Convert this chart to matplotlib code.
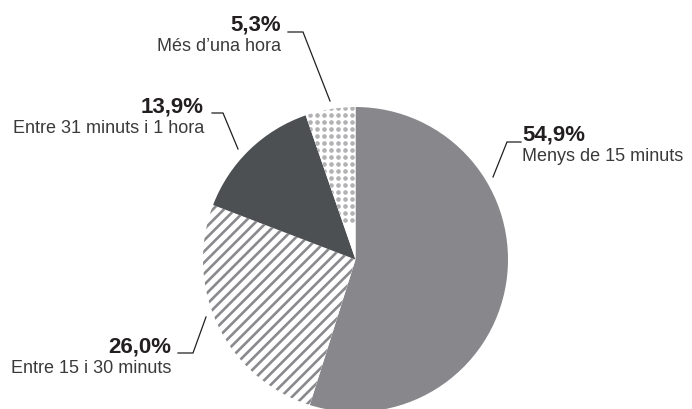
import matplotlib
matplotlib.use("Agg")
import matplotlib.pyplot as plt
import numpy as np

# --- Data ---
categories = ["Menys de 15 minuts", "Entre 15 i 30 minuts", "Entre 31 minuts i 1 hora", "Més d\u2019una hora"]
values = [54.9, 26.0, 13.9, 5.3]
value_labels = ["54,9%", "26,0%", "13,9%", "5,3%"]

# --- Style ---
face_colors = ["#88888c", "white", "#4c5052", "white"]
hatch_colors = ["#88888c", "#8a8a8e", "#4c5052", "#b2b2b4"]
hatches = [None, "///", None, None]

plt.rcParams["hatch.linewidth"] = 1.9
num_font = ["Liberation Sans", "DejaVu Sans"]
txt_font = ["Liberation Sans", "DejaVu Sans"]

fig = plt.figure(figsize=(6.92, 4.09), dpi=100)
ax = fig.add_axes([0, 0, 1, 1])

W, H = 692, 409
cx, cy, r = 355.5, H - 259.5, 152.5

wedges, _ = ax.pie(values, startangle=90, counterclock=False,
                   center=(cx, cy), radius=r, colors=face_colors,
                   wedgeprops=dict(linewidth=0))
for w, hc, h in zip(wedges, hatch_colors, hatches):
    w.set_edgecolor(hc)
    if h:
        w.set_hatch(h)

# dotted texture for the last slice
gx, gy = np.meshgrid(np.arange(cx - 60, cx + 5, 7.0), np.arange(cy + 40, cy + r + 5, 7.0))
dots = ax.scatter(gx.ravel(), gy.ravel(), s=11, color=hatch_colors[3], linewidths=0, zorder=3)
dots.set_clip_path(wedges[3])

ax.set_xlim(0, W)
ax.set_ylim(0, H)
ax.set_aspect("auto")
ax.axis("off")

# --- Labels (pixel positions, top-left origin) ---
label_pos = [
    (522, 141, "left"),
    (171, 353, "right"),
    (204, 113, "right"),
    (281, 31, "right"),
]
leaders = [
    [(493, 177), (507, 142), (521, 142)],
    [(206, 317), (193, 353), (178, 353)],
    [(238, 149), (223, 113), (212, 113)],
    [(330, 101), (303, 32), (288, 32)],
]

for (x, y, ha), cat, vl, pts in zip(label_pos, categories, value_labels, leaders):
    ax.text(x, H - y, vl, ha=ha, va="baseline", fontsize=16,
            fontweight="bold", family=num_font, color="#231f20")
    ax.text(x, H - y - 20, cat, ha=ha, va="baseline", fontsize=13,
            family=txt_font, color="#3a3a3a")
    xs = [p[0] for p in pts]
    ys = [H - p[1] for p in pts]
    ax.plot(xs, ys, color="#231f20", linewidth=0.9, solid_joinstyle="miter")

fig.savefig("out.png", dpi=100)
